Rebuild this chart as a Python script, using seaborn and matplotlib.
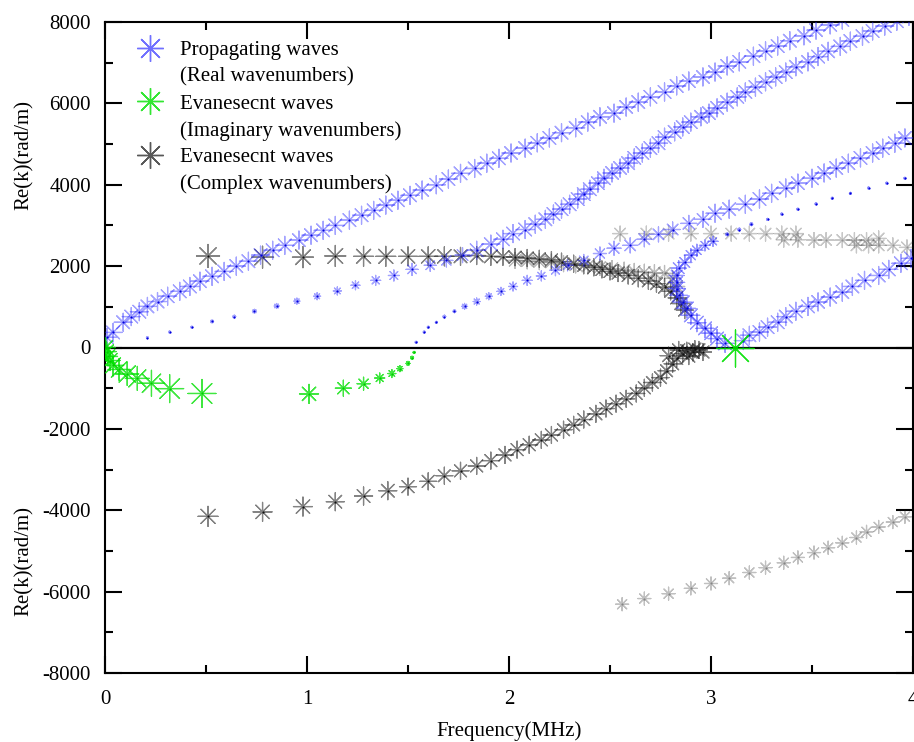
import numpy as np
import pandas as pd
import matplotlib
matplotlib.use("Agg")
import matplotlib.pyplot as plt
from matplotlib.lines import Line2D
from matplotlib.ticker import MultipleLocator
from matplotlib.transforms import blended_transform_factory
import seaborn as sns

# Values: frequency (MHz), Re(k) (rad/m),
# and marker scale (relative amplitude, in px of marker diameter)

# propagating waves (blue)
b1_f = [0.01, 0.04, 0.09, 0.13, 0.17, 0.21, 0.26, 0.31, 0.37, 0.42, 0.47, 0.53, 0.59, 0.65,
        0.71, 0.77, 0.83, 0.89, 0.96, 1.02, 1.08, 1.14, 1.21, 1.27, 1.33, 1.39, 1.45, 1.51,
        1.57, 1.64, 1.70, 1.76, 1.83, 1.89, 1.95, 2.01, 2.08, 2.14, 2.20, 2.26, 2.33, 2.39,
        2.45, 2.52, 2.58, 2.64, 2.70, 2.77, 2.83, 2.89, 2.96, 3.02, 3.08, 3.14, 3.21, 3.27,
        3.33, 3.39, 3.46, 3.52, 3.59, 3.65]
b1_k = [250, 370, 620, 760, 880, 1010, 1130, 1260, 1380, 1500, 1630, 1750, 1870, 2000,
        2120, 2270, 2390, 2510, 2640, 2760, 2880, 3000, 3130, 3250, 3370, 3500, 3620, 3740,
        3870, 4000, 4140, 4280, 4400, 4530, 4650, 4780, 4900, 5030, 5150, 5280, 5400, 5540,
        5670, 5760, 5910, 6030, 6160, 6280, 6430, 6550, 6650, 6770, 6920, 7020, 7160, 7290,
        7410, 7540, 7660, 7800, 7930, 8050]
b1_amp = 18

b2_f = [0.21, 0.32, 0.43, 0.53, 0.64, 0.74, 0.85, 0.95, 1.05, 1.15, 1.24, 1.34, 1.43, 1.52,
        1.61, 1.69, 1.77, 1.84, 1.91, 1.97, 2.02, 2.08, 2.13, 2.18, 2.22, 2.26, 2.30, 2.34,
        2.37, 2.40, 2.44, 2.47, 2.51, 2.55, 2.59, 2.62, 2.66, 2.70, 2.74, 2.77, 2.82, 2.86,
        2.90, 2.95, 2.99, 3.03, 3.08, 3.13, 3.17, 3.22, 3.27, 3.32, 3.37, 3.42, 3.48, 3.53,
        3.58, 3.64, 3.69, 3.75, 3.80, 3.86, 3.92, 3.98]
b2_k = [240, 380, 500, 640, 760, 890, 1020, 1140, 1260, 1390, 1530, 1650, 1770, 1920,
        2020, 2140, 2270, 2390, 2540, 2660, 2800, 2900, 3030, 3150, 3280, 3400, 3520, 3650,
        3770, 3890, 4040, 4160, 4290, 4410, 4530, 4660, 4780, 4900, 5020, 5170, 5300, 5420,
        5540, 5670, 5760, 5890, 6030, 6160, 6280, 6400, 6530, 6650, 6770, 6900, 7020, 7150,
        7280, 7400, 7530, 7650, 7780, 7900, 8020, 8140]
b2_amp = [2, 2, 2, 3, 3, 4, 5, 6, 7, 8, 9, 10, 11, 12, 12, 13, 15] + [18] * 47

b3_f = [1.54, 1.58, 1.60, 1.64, 1.68, 1.73, 1.78, 1.84, 1.90, 1.96, 2.02, 2.09, 2.16, 2.23,
        2.29, 2.37, 2.45, 2.52, 2.60, 2.67, 2.74, 2.81, 2.89, 2.96, 3.02, 3.09, 3.17, 3.24,
        3.30, 3.37, 3.43, 3.50, 3.56, 3.62, 3.68, 3.74, 3.80, 3.85, 3.91, 3.96]
b3_k = [130, 380, 500, 620, 760, 890, 1010, 1130, 1260, 1380, 1500, 1650, 1760, 1900,
        2020, 2140, 2310, 2440, 2510, 2660, 2780, 2900, 3050, 3150, 3300, 3400, 3520, 3650,
        3790, 3920, 4040, 4160, 4290, 4410, 4530, 4660, 4780, 4900, 5020, 5150]
b3_amp = [2, 2, 2, 2, 3, 3, 6, 7, 7, 8, 9, 10, 10, 11, 11, 12, 13, 14, 15, 15, 15, 15,
          16, 16] + [18] * 16

b4_f = [3.07, 3.03, 3.00, 2.97, 2.93, 2.90, 2.88, 2.86, 2.84, 2.83, 2.83, 2.83, 2.84, 2.87,
        2.90, 2.93, 2.97, 3.01, 3.08, 3.14, 3.20, 3.28, 3.35, 3.43, 3.52, 3.60, 3.69, 3.78,
        3.87, 3.96]
b4_k = [100, 220, 350, 470, 610, 790, 960, 1110, 1280, 1450, 1600, 1770, 1950, 2090,
        2270, 2390, 2510, 2610, 2780, 2900, 3030, 3150, 3280, 3400, 3530, 3670, 3790, 3920,
        4040, 4160]
b4_amp = [18] * 9 + [17, 16, 15, 15, 14, 13, 12, 11, 10,
                     3, 3, 3, 2, 2, 2, 2, 2, 2, 2, 2, 2]

b5_f = [3.16, 3.19, 3.24, 3.28, 3.33, 3.37, 3.42, 3.48, 3.53, 3.59, 3.65, 3.70, 3.76, 3.83,
        3.88, 3.94, 3.99]
b5_k = [170, 300, 380, 500, 620, 760, 890, 1010, 1120, 1240, 1360, 1500, 1650, 1770,
        1920, 2070, 2190]
b5_amp = 18

# evanescent waves, imaginary wavenumbers (green)
g1_f = [0.003, 0.008, 0.015, 0.025, 0.04, 0.07, 0.11, 0.16, 0.23, 0.32, 0.48]
g1_k = [0, -100, -220, -320, -440, -540, -650, -760, -880, -1010, -1130]
g1_amp = [19, 19, 19, 20, 21, 22, 23, 24, 26, 28, 28]

g2_f = [1.01, 1.18, 1.28, 1.36, 1.42, 1.46, 1.50, 1.52, 1.53]
g2_k = [-1140, -1000, -890, -750, -640, -520, -390, -250, -120]
g2_amp = [19, 16, 13, 10, 8, 6, 4, 3, 2]

g3_f = [3.12]
g3_k = [0]
g3_amp = 37

# evanescent waves, complex wavenumbers (black)
k1_f = [0.51, 0.78, 0.98, 1.14, 1.28, 1.39, 1.50, 1.60, 1.68, 1.76, 1.84, 1.91, 1.97, 2.03,
        2.09, 2.15, 2.21, 2.26, 2.32, 2.37, 2.42, 2.46, 2.50, 2.54, 2.59, 2.64, 2.69, 2.73,
        2.77, 2.80, 2.83, 2.85, 2.87]
k1_k = [2250, 2220, 2220, 2250, 2240, 2240, 2240, 2240, 2240, 2240, 2260, 2240, 2230, 2220,
        2200, 2180, 2150, 2110, 2060, 2020, 1970, 1920, 1870, 1830, 1770, 1700, 1640, 1570,
        1480, 1380, 1220, 1080, 920]
k1_amp = [23, 22, 21, 21, 20, 20, 19, 19, 19, 18, 18, 18] + [17] * 21

k1b_f = [2.03, 2.09, 2.15, 2.21, 2.27, 2.33, 2.39, 2.45, 2.51, 2.57, 2.62, 2.67, 2.72, 2.77,
         2.81, 2.83]
k1b_k = [2140, 2130, 2110, 2100, 2060, 2030, 2000, 1970, 1940, 1900, 1870, 1850, 1840, 1820,
         1700, 1500]
k1b_amp = 16

k2_f = [0.51, 0.78, 0.98, 1.14, 1.28, 1.40, 1.50, 1.60, 1.68, 1.76, 1.84, 1.91, 1.98, 2.04,
        2.10, 2.16, 2.21, 2.27, 2.32, 2.37, 2.43, 2.48, 2.53, 2.58, 2.63, 2.67, 2.71, 2.75,
        2.78, 2.81, 2.83, 2.86, 2.88, 2.91, 2.94, 2.79, 2.84, 2.89, 2.92, 2.96]
k2_k = [-4150, -4040, -3910, -3790, -3650, -3520, -3420, -3290, -3150, -3030, -2910, -2780,
        -2640, -2510, -2390, -2270, -2150, -2020, -1900, -1770, -1630, -1500, -1380, -1260,
        -1130, -990, -860, -740, -570, -400, -270, -150, -80, -120, -60, -200, -60, -210,
        -40, -110]
k2_amp = [20, 19, 19, 18, 18, 18] + [17] * 34

k3_f = [2.55, 2.68, 2.79, 2.90, 3.00, 3.10, 3.19, 3.27, 3.35, 3.42, 3.36, 3.43, 3.51, 3.57,
        3.65, 3.71, 3.77, 3.83, 3.72, 3.78, 3.83, 3.90, 3.97]
k3_k = [2800, 2800, 2800, 2800, 2800, 2800, 2800, 2800, 2800, 2800, 2650, 2650, 2640, 2640,
        2640, 2640, 2640, 2680, 2510, 2510, 2510, 2510, 2460]
k3_amp = 15

k4_f = [2.56, 2.67, 2.79, 2.90, 3.00, 3.09, 3.19, 3.27, 3.36, 3.43, 3.51, 3.58, 3.65, 3.72,
        3.77, 3.83, 3.90, 3.96]
k4_k = [-6310, -6170, -6050, -5920, -5800, -5670, -5530, -5410, -5290, -5160, -5040, -4920,
        -4800, -4670, -4530, -4410, -4290, -4160]
k4_amp = 13

legend_labels = ["Propagating waves", "(Real wavenumbers)",
                 "Evanesecnt waves", "(Imaginary wavenumbers)",
                 "Evanesecnt waves", "(Complex wavenumbers)"]
x_ticks = [0, 1, 2, 3, 4]
y_ticks = [-8000, -6000, -4000, -2000, 0, 2000, 4000, 6000, 8000]

BLUE, GREEN, GREY = "#2424ff", "#00e000", "#202020"
STAR = (8, 2, 0)  # 8-spoke asterisk
PX_MAX = 37


def draw(ax, f, k, amp, color, alpha, dot, dot_alpha=1.0):
    df = pd.DataFrame({"f": f, "k": k})
    df["amp"] = np.broadcast_to(np.asarray(amp, dtype=float), len(df))
    df["area"] = df["amp"] ** 2
    smax = (PX_MAX / 100 * 72) ** 2
    sns.scatterplot(data=df, x="f", y="k", size="area", sizes=(0, smax),
                    size_norm=(0, PX_MAX ** 2), marker=STAR, color=color,
                    alpha=alpha, linewidth=0.9, legend=False, ax=ax, zorder=3)
    sns.scatterplot(data=df, x="f", y="k", marker="o", s=2.5, color=dot,
                    alpha=dot_alpha, linewidth=0, legend=False, ax=ax, zorder=3)


sns.set_theme(style="white")
plt.rcParams["font.family"] = ["Liberation Serif", "DejaVu Serif"]
plt.rcParams["axes.unicode_minus"] = False

fig = plt.figure(figsize=(9.14, 7.42), dpi=100)
ax = fig.add_axes([105 / 914, 1 - 673 / 742, 808 / 914, 651 / 742])

# black / grey first, then blue, then green on top
draw(ax, k4_f, k4_k, k4_amp, GREY, 0.28, "#777777", 0.8)
draw(ax, k3_f, k3_k, k3_amp, GREY, 0.25, "#888888", 0.8)
draw(ax, k1b_f, k1b_k, k1b_amp, GREY, 0.3, "#555555", 0.8)
draw(ax, k1_f, k1_k, k1_amp, GREY, 0.55, "#111111")
draw(ax, k2_f, k2_k, k2_amp, GREY, 0.55, "#111111")

draw(ax, b1_f, b1_k, b1_amp, BLUE, 0.42, "#0000dd")
draw(ax, b2_f, b2_k, b2_amp, BLUE, 0.42, "#0000dd")
draw(ax, b3_f, b3_k, b3_amp, BLUE, 0.42, "#0000dd")
draw(ax, b4_f, b4_k, b4_amp, BLUE, 0.48, "#0000dd")
draw(ax, b5_f, b5_k, b5_amp, BLUE, 0.42, "#0000dd")

draw(ax, g1_f, g1_k, g1_amp, GREEN, 0.75, "#00cc00")
draw(ax, g2_f, g2_k, g2_amp, GREEN, 0.75, "#00cc00")
draw(ax, g3_f, g3_k, g3_amp, GREEN, 0.9, "#00cc00")

ax.axhline(0, color="black", lw=1.6, zorder=2)

ax.set_xlim(0, 4)
ax.set_ylim(-8000, 8000)
ax.set_xticks(x_ticks)
ax.set_yticks(y_ticks)
ax.xaxis.set_minor_locator(MultipleLocator(0.5))
ax.yaxis.set_minor_locator(MultipleLocator(1000))
ax.tick_params(which="both", direction="in", top=True, right=True, bottom=True,
               left=True, colors="black", width=1.5, labelsize=15, pad=10)
ax.tick_params(axis="x", which="both", pad=12)
ax.tick_params(which="major", length=12)
ax.tick_params(which="minor", length=6)
for sp in ax.spines.values():
    sp.set_color("black")
    sp.set_linewidth(1.5)

ax.set_xlabel("Frequency(MHz)", fontsize=15, color="black", labelpad=9)
ax.set_ylabel("")
tr = blended_transform_factory(ax.transAxes, ax.transData)
for yk in (4730, -5250):
    ax.text(-0.100, yk, "Re(k)(rad/m)", transform=tr, rotation=90, ha="center",
            va="center", fontsize=15, color="black")

handles = [
    Line2D([], [], marker=STAR, markersize=19, linestyle="none", color=BLUE, alpha=0.65,
           markeredgewidth=1.0),
    Line2D([], [], linestyle="none"),
    Line2D([], [], marker=STAR, markersize=19, linestyle="none", color=GREEN, alpha=0.8,
           markeredgewidth=1.0),
    Line2D([], [], linestyle="none"),
    Line2D([], [], marker=STAR, markersize=19, linestyle="none", color=GREY, alpha=0.75,
           markeredgewidth=1.0),
    Line2D([], [], linestyle="none"),
]
ax.legend(handles, legend_labels, loc="upper left", bbox_to_anchor=(0.0297, 0.972),
          frameon=False, fontsize=15, borderpad=0, borderaxespad=0, handlelength=2,
          handletextpad=0.44, labelspacing=0.35, labelcolor="black")

fig.savefig("out.png", dpi=100)
